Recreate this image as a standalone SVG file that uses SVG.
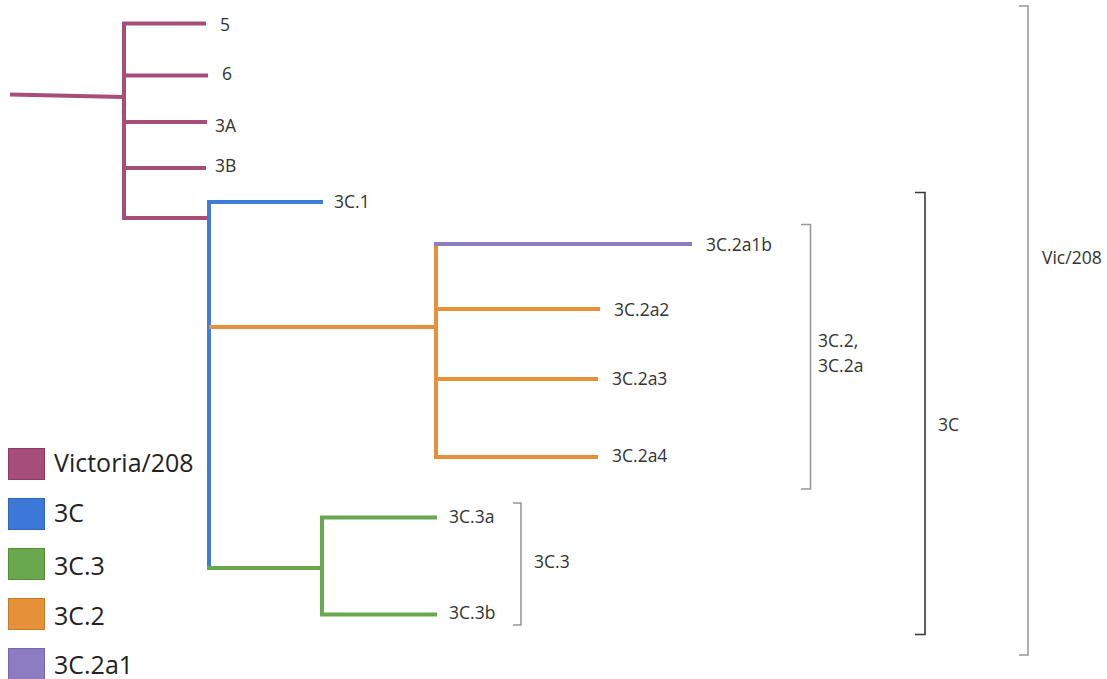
<svg xmlns="http://www.w3.org/2000/svg" width="1107" height="679" viewBox="0 0 1107 679">
<style>
text{font-family:"Open Sans","Liberation Sans",sans-serif;fill:#333}
.lbl{font-size:17.5px}
.leg{font-size:25px;fill:#222}
.br{fill:none;stroke:#999;stroke-width:1.6}
.br.dk{stroke:#3a3a3a}
.t{fill:none;stroke-width:4;stroke-linecap:butt;stroke-linejoin:miter}
.vic{stroke:#A64D79}.c3{stroke:#3C7DD9}.c33{stroke:#6AA84F}.c32{stroke:#E69138}.c321{stroke:#8E7CC3}
</style>
<rect width="1107" height="679" fill="#fff"/>
<g id="connectors">
<path class="t vic" d="M10 94.5 L124 97"/>
<path class="t vic" d="M206 23.5 H124 V218 H209"/>
<path class="t vic" d="M124 75.5 H208 M124 122 H207 M124 168 H206"/>
<path class="t c3" d="M323 202 H209 V569"/>
<path class="t c32" d="M209 327 H436"/>
<path class="t c32" d="M436 244 V457 H598 M436 309 H600 M436 379 H598"/>
<path class="t c321" d="M434 244 H692"/>
<path class="t c33" d="M207 568 H322"/>
<path class="t c33" d="M437 517.5 H322 V614.5 H437"/>
</g>
<g id="leaf-5"><text class="lbl" x="220" y="30.5">5</text></g>
<g id="leaf-6"><text class="lbl" x="222" y="80">6</text></g>
<g id="leaf-3A"><text class="lbl" x="215" y="131.5">3A</text></g>
<g id="leaf-3B"><text class="lbl" x="215" y="172">3B</text></g>
<g id="leaf-3C1"><text class="lbl" x="334" y="208">3C.1</text></g>
<g id="leaf-3C2a1b"><text class="lbl" x="706" y="250.5">3C.2a1b</text></g>
<g id="leaf-3C2a2"><text class="lbl" x="614" y="315.5">3C.2a2</text></g>
<g id="leaf-3C2a3"><text class="lbl" x="612" y="384.5">3C.2a3</text></g>
<g id="leaf-3C2a4"><text class="lbl" x="612" y="462">3C.2a4</text></g>
<g id="leaf-3C3a"><text class="lbl" x="449" y="523">3C.3a</text></g>
<g id="leaf-3C3b"><text class="lbl" x="449" y="619">3C.3b</text></g>
<g id="bracket-3C2"><path class="br" d="M801 224.5 H810.5 V489 H801"/><text class="lbl" x="818" y="347">3C.2,</text><text class="lbl" x="818" y="372">3C.2a</text></g>
<g id="bracket-3C3"><path class="br" d="M513 503 H521 V625 H513"/><text class="lbl" x="534" y="568">3C.3</text></g>
<g id="bracket-3C"><path class="br dk" d="M915 192.5 H925 V634.5 H915"/><text class="lbl" x="938" y="431">3C</text></g>
<g id="bracket-Vic208"><path class="br" d="M1019 6 H1028 V655 H1019"/><text class="lbl" x="1042" y="264">Vic/208</text></g>
<g id="legend">
<g id="legend-vic"><rect x="8.5" y="448.5" width="36" height="31" fill="#A64D79" stroke="#8a3a63"/><text class="leg" x="54" y="472">Victoria/208</text></g>
<g id="legend-3C"><rect x="8.5" y="498.5" width="36" height="31" fill="#3C78D8" stroke="#2f64b8"/><text class="leg" x="54" y="522">3C</text></g>
<g id="legend-3C3"><rect x="8.5" y="548.5" width="36" height="31" fill="#6AA84F" stroke="#578c40"/><text class="leg" x="54" y="575">3C.3</text></g>
<g id="legend-3C2"><rect x="8.5" y="598.5" width="36" height="31" fill="#E69138" stroke="#c77a2a"/><text class="leg" x="54" y="625">3C.2</text></g>
<g id="legend-3C2a1"><rect x="8.5" y="648.5" width="36" height="31" fill="#8E7CC3" stroke="#7766a8"/><text class="leg" x="54" y="674">3C.2a1</text></g>
</g>
</svg>
